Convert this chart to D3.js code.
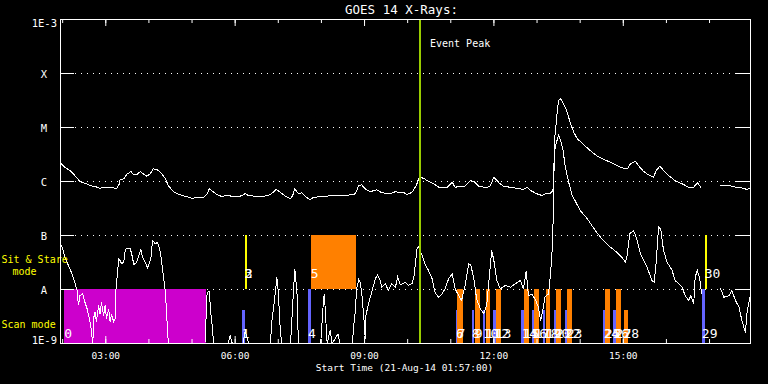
<!DOCTYPE html>
<html><head><meta charset="utf-8">
<script src="https://cdn.jsdelivr.net/npm/d3@7"></script>
<style>
html,body{margin:0;padding:0;background:#000;}
svg{display:block;background:#000;}
text{font-family:"DejaVu Sans Mono",monospace;}
</style></head><body>
<svg id="chart" width="768" height="384"></svg>
<script>
// ---------------- data ----------------
const chartTitle = "GOES 14 X-Rays:";
const startLabel = "Start Time (21-Aug-14 01:57:00)";
const timeDomain = ["01:57", "17:57"];
const fluxDomain = [1e-9, 1e-3];
const yTickValues = [1e-9, 1e-8, 1e-7, 1e-6, 1e-5, 1e-4, 1e-3];
const yTickLabels = ["1E-9", "A", "B", "C", "M", "X", "1E-3"];
const gridValues = [1e-8, 1e-7, 1e-6, 1e-5, 1e-4];
const eventPeakTime = "10:18";
const eventPeakLabel = "Event Peak";
const modeLabels = ["Sit & Stare", "mode", "Scan mode"];

// GOES 1-8 A (long channel), [time, W/m^2]
const xrsLong = [["01:57",2.2e-6],["02:03",1.84e-6],["02:10",1.6e-6],["02:17",1.29e-6],["02:24",1.0e-6],["02:31",9.3e-7],["02:38",8.4e-7],["02:45",8.1e-7],["02:52",7.5e-7],["02:57",7.8e-7],["03:04",7.6e-7],["03:11",7.6e-7],["03:15",7.3e-7],["03:19",9.1e-7],["03:20",1.09e-6],["03:25",1.12e-6],["03:29",1.35e-6],["03:35",1.53e-6],["03:39",1.33e-6],["03:43",1.33e-6],["03:48",1.53e-6],["03:52",1.39e-6],["03:57",1.25e-6],["04:02",1.39e-6],["04:06",1.72e-6],["04:11",1.67e-6],["04:16",1.49e-6],["04:23",1.12e-6],["04:27",8.4e-7],["04:34",6.5e-7],["04:43",5.7e-7],["04:53",5.2e-7],["05:00",4.9e-7],["05:07",5.0e-7],["05:16",5.1e-7],["05:21",5.9e-7],["05:24",7.3e-7],["05:29",6.5e-7],["05:35",5.7e-7],["05:41",5.3e-7],["05:48",5.5e-7],["05:58",5.3e-7],["06:09",5.4e-7],["06:14",6.0e-7],["06:18",5.5e-7],["06:30",5.3e-7],["06:39",5.3e-7],["06:49",5.7e-7],["06:57",7.1e-7],["07:03",6.3e-7],["07:10",5.3e-7],["07:17",4.8e-7],["07:20",5.5e-7],["07:23",7.3e-7],["07:28",5.9e-7],["07:33",6.2e-7],["07:40",5.0e-7],["07:44",4.6e-7],["07:49",5.1e-7],["08:03",5.3e-7],["08:17",5.5e-7],["08:35",5.5e-7],["08:47",5.9e-7],["08:52",8.4e-7],["08:56",8.7e-7],["09:01",7.3e-7],["09:08",6.5e-7],["09:17",7.0e-7],["09:24",6.2e-7],["09:36",5.9e-7],["09:43",6.5e-7],["09:50",6.2e-7],["09:54",6.3e-7],["09:59",5.7e-7],["10:06",6.3e-7],["10:12",8.4e-7],["10:16",1.2e-6],["10:22",1.15e-6],["10:29",1.0e-6],["10:36",9.1e-7],["10:45",7.6e-7],["10:55",7.8e-7],["11:02",9.7e-7],["11:06",7.8e-7],["11:13",8.2e-7],["11:20",8.2e-7],["11:27",1.04e-6],["11:32",1.0e-6],["11:39",8.2e-7],["11:50",7.6e-7],["11:55",8.4e-7],["12:00",1.2e-6],["12:07",9.5e-7],["12:13",8.2e-7],["12:23",7.8e-7],["12:32",7.5e-7],["12:41",7.1e-7],["12:46",7.8e-7],["12:51",6.8e-7],["13:00",5.9e-7],["13:07",5.5e-7],["13:11",5.9e-7],["13:18",5.9e-7],["13:22",6.8e-7],["13:23",9.7e-7],["13:24",3.5e-6],["13:25",7.1e-6],["13:28",1.92e-5],["13:30",3.16e-5],["13:33",3.4e-5],["13:37",2.75e-5],["13:42",1.92e-5],["13:46",1.25e-5],["13:51",8.2e-6],["13:56",6.2e-6],["14:05",4.8e-6],["14:14",3.75e-6],["14:23",3.0e-6],["14:33",2.55e-6],["14:42",2.28e-6],["14:51",1.98e-6],["15:00",1.76e-6],["15:06",1.72e-6],["15:10",2.13e-6],["15:17",2.35e-6],["15:21",1.98e-6],["15:28",1.55e-6],["15:35",1.33e-6],["15:42",1.2e-6],["15:46",1.6e-6],["15:51",1.92e-6],["15:56",1.6e-6],["16:03",1.29e-6],["16:12",1.04e-6],["16:24",8.8e-7],["16:31",7.8e-7],["16:38",7.8e-7],["16:43",9.5e-7],["16:48",7.8e-7],["16:55",null],["17:15",8.4e-7],["17:27",8.4e-7],["17:38",7.8e-7],["17:47",7.5e-7],["17:52",7.1e-7],["17:57",7.5e-7]];

// GOES 0.5-4 A (short channel), [time, W/m^2]
const xrsShort = [["01:57",7.0e-8],["02:00",5.7e-8],["02:03",3.96e-8],["02:08",2.8e-8],["02:13",1.95e-8],["02:17",1.36e-8],["02:20",9.6e-9],["02:22",5.1e-9],["02:24",7.7e-9],["02:28",8.3e-9],["02:31",5.8e-9],["02:34",4.4e-9],["02:37",2.9e-9],["02:39",2.15e-9],["02:42",1.0e-9],["02:43",2.9e-9],["02:45",3.8e-9],["02:47",2.5e-9],["02:50",5.1e-9],["02:52",3.55e-9],["02:54",5.8e-9],["02:57",3.3e-9],["02:59",5.1e-9],["03:01",2.9e-9],["03:04",4.4e-9],["03:06",2.5e-9],["03:08",3.55e-9],["03:11",2.5e-9],["03:13",2.9e-9],["03:14",9.6e-9],["03:16",1.8e-8],["03:18",3.7e-8],["03:20",3.4e-8],["03:22",3.0e-8],["03:25",3.2e-8],["03:27",5.3e-8],["03:29",5.8e-8],["03:34",5.7e-8],["03:36",4.6e-8],["03:39",2.9e-8],["03:43",3.2e-8],["03:47",4.6e-8],["03:49",5.5e-8],["03:51",3.96e-8],["03:55",3.2e-8],["03:58",2.5e-8],["04:01",3.2e-8],["04:03",3.96e-8],["04:05",8.1e-8],["04:09",7.0e-8],["04:12",7.5e-8],["04:16",4.9e-8],["04:19",2.4e-8],["04:23",8.9e-9],["04:25",2.9e-9],["04:27",1.0e-9],["05:18",1.0e-9],["05:21",8.9e-9],["05:24",9.2e-9],["05:26",3.8e-9],["05:28",2.15e-9],["05:30",1.0e-9],["05:50",1.0e-9],["05:53",1.4e-9],["05:56",1.0e-9],["06:11",1.0e-9],["06:14",1.74e-9],["06:17",1.2e-9],["06:19",1.0e-9],["06:49",1.0e-9],["06:51",2.5e-9],["06:56",8.9e-9],["06:58",1.7e-8],["07:00",8.9e-9],["07:03",1.6e-9],["07:05",1.0e-9],["07:17",1.0e-9],["07:19",2.9e-9],["07:21",8.9e-9],["07:23",2.4e-8],["07:26",8.9e-9],["07:28",1.0e-9],["07:59",1.0e-9],["08:03",6.7e-9],["08:04",8.3e-9],["08:05",5.1e-9],["08:08",1.0e-9],["08:12",1.74e-9],["08:15",1.0e-9],["08:23",1.5e-9],["08:26",1.0e-9],["08:43",1.0e-9],["08:45",2.15e-9],["08:47",3.8e-9],["08:49",1.03e-8],["08:52",1.53e-8],["08:54",1.36e-8],["08:56",8.9e-9],["08:59",3.1e-9],["09:01",1.2e-9],["09:02",3.3e-9],["09:05",5.1e-9],["09:10",8.9e-9],["09:15",1.58e-8],["09:18",1.87e-8],["09:21",1.58e-8],["09:24",1.1e-8],["09:29",1.28e-8],["09:33",9.6e-9],["09:38",1.28e-8],["09:43",1.1e-8],["09:46",1.7e-8],["09:50",1.22e-8],["09:57",1.36e-8],["10:01",1.19e-8],["10:06",1.28e-8],["10:09",1.8e-8],["10:13",5.7e-8],["10:15",6.1e-8],["10:20",4.3e-8],["10:25",2.8e-8],["10:29",2.25e-8],["10:34",1.58e-8],["10:38",8.9e-9],["10:43",7.2e-9],["10:48",8.3e-9],["10:52",1.03e-8],["10:57",1.58e-8],["11:02",1.95e-8],["11:06",1.03e-8],["11:11",7.7e-9],["11:15",6.3e-9],["11:20",1.19e-8],["11:25",3.0e-8],["11:28",2.8e-8],["11:32",1.58e-8],["11:36",6.7e-9],["11:41",4.4e-9],["11:46",3.55e-9],["11:50",5.1e-9],["11:55",2.8e-8],["11:57",5.3e-8],["12:00",3.4e-8],["12:04",1.47e-8],["12:09",1.03e-8],["12:16",1.19e-8],["12:23",1.1e-8],["12:30",1.28e-8],["12:37",1.47e-8],["12:41",1.03e-8],["12:45",2.2e-8],["12:48",7.7e-9],["12:53",8.3e-9],["12:58",6.3e-9],["13:02",4.7e-9],["13:05",2.67e-9],["13:08",4.1e-9],["13:11",7.2e-9],["13:16",8.3e-9],["13:19",2.1e-8],["13:21",5.3e-8],["13:22",1.24e-7],["13:23",3.9e-7],["13:24",3.5e-6],["13:27",5.3e-6],["13:30",7.1e-6],["13:32",6.2e-6],["13:36",4.0e-6],["13:39",1.98e-6],["13:44",9.7e-7],["13:49",5.5e-7],["13:53",4.4e-7],["14:00",2.9e-7],["14:10",2.04e-7],["14:21",1.24e-7],["14:30",8.7e-8],["14:42",6.1e-8],["14:51",4.9e-8],["14:58",3.96e-8],["15:03",3.2e-8],["15:05",3.96e-8],["15:09",1.07e-7],["15:14",1.24e-7],["15:18",9.3e-8],["15:24",4.6e-8],["15:33",2.6e-8],["15:40",1.47e-8],["15:43",1.36e-8],["15:46",3.4e-8],["15:49",1.43e-7],["15:52",1.33e-7],["15:56",5.3e-8],["16:01",3.2e-8],["16:08",2.25e-8],["16:12",1.47e-8],["16:17",1.28e-8],["16:22",1.1e-8],["16:26",7.7e-9],["16:31",6.3e-9],["16:34",7.7e-9],["16:38",5.4e-9],["16:40",1.7e-8],["16:43",2.25e-8],["16:46",1.7e-8],["16:49",8.3e-9],["16:55",null],["17:15",1.07e-8],["17:20",7.2e-9],["17:27",7.7e-9],["17:31",9.6e-9],["17:36",6.3e-9],["17:41",4.7e-9],["17:45",2.67e-9],["17:50",1.6e-9],["17:52",3.55e-9],["17:56",7.2e-9]];

// observation events (index = label)
const eventStart = ["02:03","06:10","06:14","06:14","07:42","07:46","11:08","11:10","11:30","11:34","11:45","11:49","12:00","12:03","12:39","12:42","12:53","12:57","13:09","13:13","13:24","13:27","13:39","13:42","14:33","14:35","14:47","14:50","15:01","16:50","16:54"];
const eventEnd   = ["05:20","06:14","06:16","06:17","07:46","08:49","11:10","11:17","11:33","11:41","11:48","11:55","12:03","12:10","12:42","12:49","12:56","13:04","13:12","13:19","13:27","13:34","13:42","13:49","14:35","14:42","14:50","14:57","15:07","16:54","16:57"];
const eventKind  = ["scanLong","scan","stareB","stareB","scan","stare","scan","stare","scan","stare","scan","stare","scan","stare","scan","stare","scan","stare","scan","stare","scan","stare","scan","stare","scan","stare","scan","stare","stare","scan","stareB"];
const eventLow   = [1e-9,1e-9,1e-8,1e-8,1e-9,1e-8,1e-9,1e-9,1e-9,1e-9,1e-9,1e-9,1e-9,1e-9,1e-9,1e-9,1e-9,1e-9,1e-9,1e-9,1e-9,1e-9,1e-9,1e-9,1e-9,1e-9,1e-9,1e-9,1e-9,1e-9,1e-8];
const eventHigh  = [1e-8,4e-9,1e-7,4e-8,1e-8,1e-7,4e-9,1e-8,4e-9,1e-8,4e-9,1e-8,4e-9,1e-8,4e-9,1e-8,4e-9,1e-8,4e-9,1e-8,4e-9,1e-8,4e-9,1e-8,4e-9,1e-8,4e-9,1e-8,4e-9,1e-8,1e-7];

// ---------------- drawing ----------------
const parse = d3.timeParse("%H:%M");
const svg = d3.select("#chart");
const L = 60, R = 750, T = 19, B = 343;
const x = d3.scaleTime().domain(timeDomain.map(parse)).range([L, R]);
const y = d3.scaleLog().domain(fluxDomain).range([B, T]);
const kindColor = d3.scaleOrdinal()
  .domain(["scanLong","scan","stare","stareB"])
  .range(["#cc00cc","#6464ff","#ff8000","#ffff00"]);

// grid (dotted)
svg.append("g").selectAll("line").data(gridValues).join("line")
  .attr("x1", 75).attr("x2", 736)
  .attr("y1", d => y(d) + 0.5).attr("y2", d => y(d) + 0.5)
  .attr("stroke", "#fff").attr("stroke-dasharray", "1,5");

// event bars
const events = eventStart.map((s, i) => ({
  i, t0: parse(s), t1: parse(eventEnd[i]), kind: eventKind[i], lo: eventLow[i], hi: eventHigh[i]
}));
svg.append("g").selectAll("rect").data(events).join("rect")
  .attr("x", d => Math.round(x(d.t0)))
  .attr("width", d => Math.max(2, Math.round(x(d.t1)) - Math.round(x(d.t0))))
  .attr("y", d => Math.round(y(d.hi)))
  .attr("height", d => Math.round(y(d.lo)) - Math.round(y(d.hi)))
  .attr("fill", d => kindColor(d.kind))
  .attr("shape-rendering", "crispEdges");

// curves
const line = d3.line()
  .defined(d => d[1] != null)
  .x(d => x(parse(d[0])) + 0.5)
  .y(d => Math.min(B, y(Math.max(fluxDomain[0], d[1]))) + 0.5);
[xrsLong, xrsShort].forEach(series => {
  svg.append("path").datum(series)
    .attr("d", line).attr("fill", "none")
    .attr("stroke", "#fff").attr("stroke-width", 1)
    .attr("shape-rendering", "crispEdges");
});

// event peak line
const xp = Math.round(x(parse(eventPeakTime)));
svg.append("rect").attr("x", xp - 1).attr("width", 2).attr("y", T).attr("height", B - T + 1)
  .attr("fill", "#99cc00").attr("shape-rendering", "crispEdges");
svg.append("text").attr("x", xp + 10).attr("y", 47)
  .attr("fill", "#fff").attr("font-size", 10).text(eventPeakLabel);

// event labels
svg.append("g").selectAll("text").data(events).join("text")
  .attr("x", d => x(d.t0))
  .attr("y", d => d.lo >= 1e-8 ? y(d.lo) - 11 : y(d.lo) - 5)
  .attr("fill", "#fff").attr("font-size", 13)
  .text(d => d.i);

// axes
function styleAxis(g) {
  g.attr("color", "#fff");
  g.selectAll("text").attr("font-family", "DejaVu Sans Mono, monospace").attr("font-size", 9.5);
}
svg.append("g").attr("transform", `translate(${L},0)`)
  .call(d3.axisLeft(y).tickValues(yTickValues).tickSize(-14).tickSizeOuter(0).tickFormat(""))
  .call(styleAxis);
svg.append("g").attr("transform", `translate(${R},0)`)
  .call(d3.axisRight(y).tickValues(yTickValues).tickSize(-14).tickSizeOuter(0).tickFormat(""))
  .call(styleAxis);
svg.append("g").attr("transform", `translate(0,${T})`)
  .call(d3.axisTop(x).ticks(d3.timeHour.every(1)).tickSize(-4).tickSizeOuter(0).tickFormat(""))
  .call(styleAxis);
svg.append("g").attr("transform", `translate(0,${T})`)
  .call(d3.axisTop(x).ticks(d3.timeHour.every(3)).tickSize(-7).tickSizeOuter(0).tickFormat(""))
  .call(styleAxis);
svg.append("g").attr("transform", `translate(0,${B})`)
  .call(d3.axisBottom(x).ticks(d3.timeHour.every(1)).tickSize(-4).tickSizeOuter(0).tickFormat(""))
  .call(styleAxis);
svg.append("g").attr("transform", `translate(0,${B})`)
  .call(d3.axisBottom(x).ticks(d3.timeHour.every(3)).tickSize(-7).tickSizeOuter(0)
        .tickPadding(9).tickFormat(d3.timeFormat("%H:%M")))
  .call(styleAxis);

// y labels
svg.append("g").selectAll("text").data(yTickValues).join("text")
  .attr("x", (d, i) => yTickLabels[i].length > 1 ? 57 : 44)
  .attr("text-anchor", (d, i) => yTickLabels[i].length > 1 ? "end" : "middle")
  .attr("y", d => Math.max(27, Math.min(B + 0.5, y(d) + 5)))
  .attr("fill", "#fff").attr("font-size", 10.5)
  .text((d, i) => yTickLabels[i]);

// mode labels
svg.append("text").attr("x", 1.5).attr("y", 263).attr("fill", "#ffff00").attr("font-size", 10).text(modeLabels[0]);
svg.append("text").attr("x", 12.5).attr("y", 275).attr("fill", "#ffff00").attr("font-size", 10).text(modeLabels[1]);
svg.append("text").attr("x", 1.5).attr("y", 328).attr("fill", "#ffff00").attr("font-size", 10).text(modeLabels[2]);

// title and x label
svg.append("text").attr("x", 401.5).attr("y", 14).attr("text-anchor", "middle")
  .attr("fill", "#fff").attr("font-size", 12.5).text(chartTitle);
svg.append("text").attr("x", 404.5).attr("y", 371).attr("text-anchor", "middle")
  .attr("fill", "#fff").attr("font-size", 9.5).text(startLabel);

// frame on top
svg.append("rect").attr("x", L + 0.5).attr("y", T + 0.5).attr("width", R - L).attr("height", B - T)
  .attr("fill", "none").attr("stroke", "#fff").attr("shape-rendering", "crispEdges");
</script>
</body></html>
